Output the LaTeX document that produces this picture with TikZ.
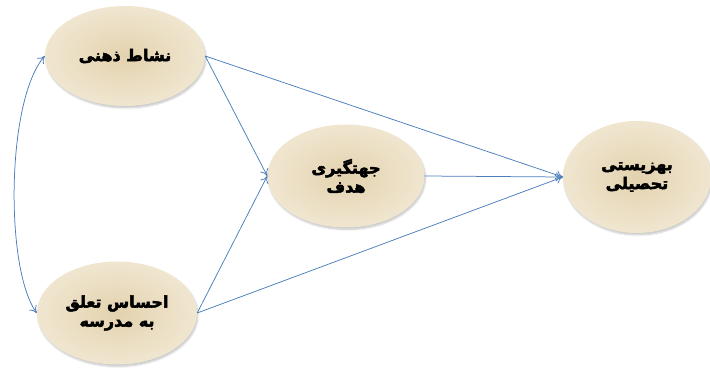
\documentclass[tikz,border=0pt]{standalone}
\usepackage{fontspec}
\newfontfamily\arabicfont[Script=Arabic,BoldFeatures={FakeBold=3}]{DejaVu Sans}
\TeXXeTstate=1
\usetikzlibrary{shapes.geometric,arrows.meta,shadows.blur}
\definecolor{arrowblue}{HTML}{4A7EBB}
\definecolor{tanin}{HTML}{E3D2AE}
\definecolor{tanout}{HTML}{F0E6D0}
\tikzset{
  ell/.style={ellipse, inner sep=0pt, minimum width=#1, minimum height=100pt,
    inner color=tanin, outer color=tanout,
    blur shadow={shadow xshift=1pt, shadow yshift=-2pt, shadow opacity=22, shadow blur steps=6},
    font=\arabicfont\bfseries\fontsize{16}{19}\selectfont, align=center, text=black},
  link/.style={draw=arrowblue, line width=0.75pt, -{To[length=7pt,width=9pt]}},
}
\begin{document}
\begin{tikzpicture}[x=1pt,y=-1pt]
\useasboundingbox (0,0) rectangle (710,369);
\node[ell=160pt] (e1) at (125,56) {\beginR نشاط ذهنی\endR};
\node[ell=160pt, minimum height=103pt] (e2) at (117,313) {\beginR احساس تعلق\endR\\\beginR به مدرسه\endR};
\node[ell=157pt, minimum height=103pt] (e3) at (346,176) {\beginR جهتگیری\endR\\\beginR هدف\endR};
\node[ell=148pt, minimum height=112pt] (e4) at (637,177) {\beginR بهزیستی\endR\\\beginR تحصیلی\endR};
\draw[draw=arrowblue, line width=0.75pt, {To[length=7pt,width=9pt]}-{To[length=7pt,width=9pt]}]
  (e1.west) .. controls (6,100) and (5,270) .. (e2.west);
\draw[link] (e1.east) -- (e3.west);
\draw[link] (e1.east) -- (e4.west);
\draw[link] (e2.east) -- (e3.west);
\draw[link] (e2.east) -- (e4.west);
\draw[link] (e3.east) -- (e4.west);
\end{tikzpicture}
\end{document}
